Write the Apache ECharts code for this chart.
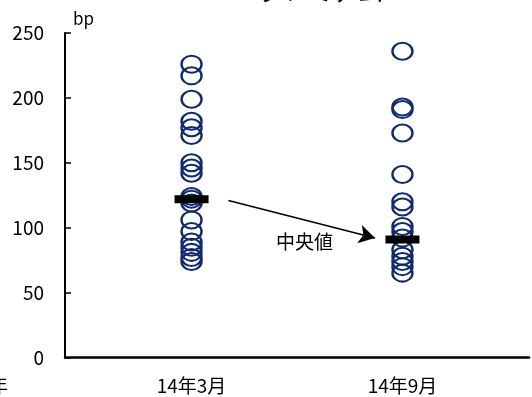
<!DOCTYPE html>
<html>
<head>
<meta charset="utf-8">
<script src="https://cdn.jsdelivr.net/npm/echarts@6/dist/echarts.min.js"></script>
<style>
  html, body { margin: 0; padding: 0; background: #fff; }
  #main { width: 532px; height: 397px; }
</style>
</head>
<body>
<div id="main"></div>
<script>
// categories and their positions on the x scale
const categories = ['14年3月', '14年9月'];
const xPos = [1, 2];

// premium values (bp) for each date
const mar14 = [226, 217, 199, 182, 177, 171, 150, 146, 142, 124, 122, 119, 106, 97, 89, 85, 81, 77, 74];
const sep14 = [236, 193, 191, 173, 141, 120, 116, 101, 97, 92, 83, 78, 74, 70, 65];
const medians = [122, 91];

// arrow between medians (data coords)
const arrowFrom = [1.175, 121];
const arrowTo = [1.87, 92];

const font = '"Noto Sans CJK JP", "Noto Sans", sans-serif';
const navy = '#102a6e';

let option = {
    animation: false,
    grid: { left: 65, top: 33, right: -10, bottom: 39.5 },
    xAxis: {
        type: 'value',
        min: 0.4,
        max: 2.6,
        interval: 0.2,
        splitLine: { show: false },
        axisTick: { show: false },
        axisLine: { lineStyle: { color: '#000', width: 2.5 } },
        axisLabel: {
            margin: 19,
            color: '#000',
            fontSize: 19,
            fontFamily: font,
            formatter: function (v) {
                let i = xPos.findIndex(p => Math.abs(p - v) < 1e-6);
                return i >= 0 ? categories[i] : '';
            }
        }
    },
    yAxis: {
        type: 'value',
        min: 0,
        max: 250,
        interval: 50,
        name: 'bp',
        nameLocation: 'end',
        nameGap: 6,
        nameTextStyle: { color: '#000', fontSize: 17, fontFamily: font, align: 'left', padding: [0, 0, 0, 8] },
        splitLine: { show: false },
        axisLine: { show: true, lineStyle: { color: '#000', width: 2 } },
        axisTick: { show: true, inside: true, length: 6, lineStyle: { color: '#000', width: 1.5 } },
        axisLabel: { margin: 21, color: '#000', fontSize: 19, fontFamily: font }
    },
    series: [
        {
            type: 'scatter',
            symbol: 'circle',
            symbolSize: [20, 17],
            itemStyle: { color: 'rgba(0,0,0,0)', borderColor: navy, borderWidth: 2.2, opacity: 1 },
            emphasis: { disabled: true },
            data: mar14.map(v => [xPos[0], v])
        },
        {
            type: 'scatter',
            symbol: 'circle',
            symbolSize: [20, 17],
            itemStyle: { color: 'rgba(0,0,0,0)', borderColor: navy, borderWidth: 2.2, opacity: 1 },
            emphasis: { disabled: true },
            data: sep14.map(v => [xPos[1], v])
        },
        {
            type: 'scatter',
            symbol: 'rect',
            symbolSize: [34, 8],
            z: 5,
            itemStyle: { color: '#000', opacity: 1 },
            emphasis: { disabled: true },
            data: medians.map((v, i) => [xPos[i], v]),
            markLine: {
                silent: true,
                symbol: ['none', 'arrow'],
                symbolSize: [14, 16],
                lineStyle: { color: '#000', width: 1.6, type: 'solid' },
                label: { show: false },
                data: [[{ coord: arrowFrom }, { coord: arrowTo }]]
            }
        }
    ],
    graphic: [
        { type: 'text', left: 258, top: -21, style: { text: 'プレミアム', font: '25px ' + font, fill: '#000' } },
        { type: 'text', left: 276, top: 232, style: { text: '中央値', font: '19px ' + font, fill: '#000' } },
        { type: 'text', left: -11, top: 376, style: { text: '年', font: '19px ' + font, fill: '#000' } }
    ]
};

echarts.init(document.getElementById('main')).setOption(option);
</script>
</body>
</html>
